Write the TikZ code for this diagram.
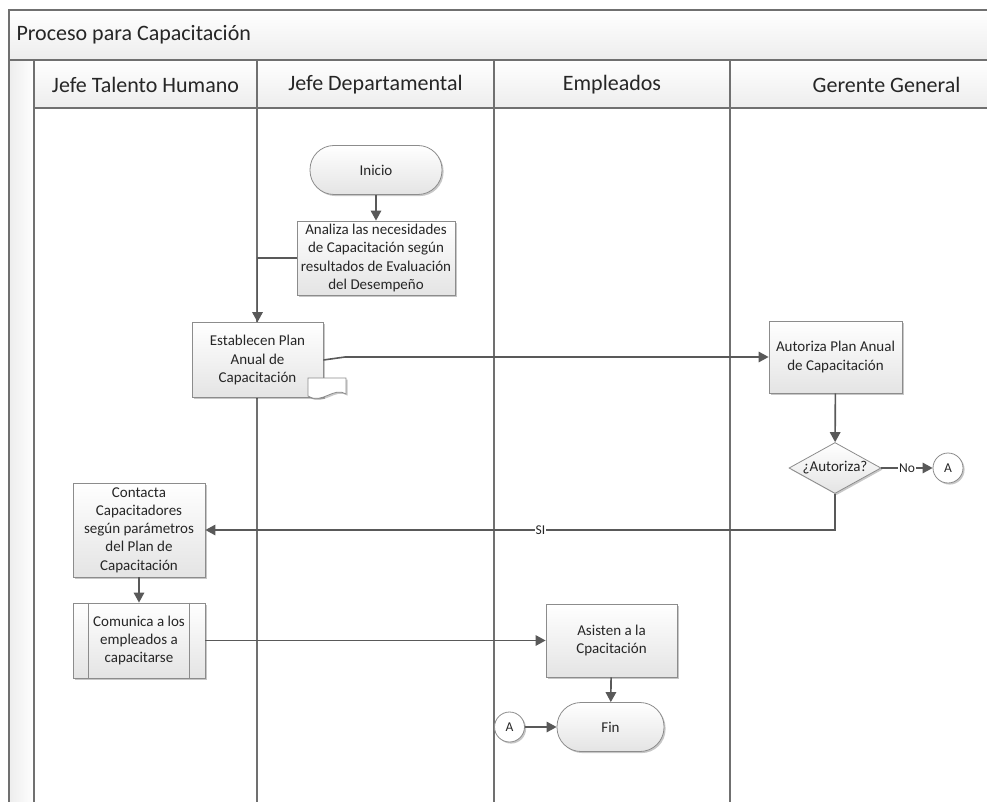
\documentclass[tikz,border=0pt]{standalone}
\usepackage{fontspec}
\setmainfont{Carlito}
\usetikzlibrary{arrows.meta,shapes.geometric,shadows}

\definecolor{frameline}{HTML}{707070}
\definecolor{connline}{HTML}{595959}
\definecolor{boxline}{HTML}{8C8C8C}
\definecolor{boxlow}{HTML}{E4E4E4}
\definecolor{bandlow}{HTML}{EDEDED}
\definecolor{inktext}{HTML}{262626}

\begin{document}
\begin{tikzpicture}[x=1pt,y=-1pt,
  every node/.style={font=\fontsize{15}{18.2}\selectfont, text=inktext},
  softshadow/.style={drop shadow={shadow xshift=1.6pt,shadow yshift=-1.6pt,fill=black,opacity=0.22}},
  procbox/.style={draw=boxline, line width=0.8pt, top color=white, bottom color=boxlow,
    align=center, inner sep=2pt, softshadow},
  terminal/.style={procbox, rounded corners=24pt},
  decision/.style={procbox, diamond, aspect=1.8, inner sep=0pt},
  connector/.style={draw=boxline, line width=0.8pt, fill=white, circle, minimum size=30,
    inner sep=0pt, softshadow, font=\fontsize{13.5}{15}\selectfont},
  flow/.style={draw=connline, line width=1.6pt, -{Triangle[length=10pt,width=10.5pt]}},
  lanehead/.style={font=\fontsize{22}{26}\selectfont},
  lanebar/.style={draw=frameline, line width=1.5pt},
  flowlabel/.style={fill=white, inner sep=1pt, font=\fontsize{13.5}{15}\selectfont}
]
\useasboundingbox (0,0) rectangle (987,802);
\clip (0,0) rectangle (987,802);

% pool: title band, header row and left strip
\shade[top color=white, bottom color=bandlow] (9,10) rectangle (995,60);
\shade[top color=white, bottom color=bandlow] (34,60) rectangle (995,108);
\shade[left color=bandlow, right color=white] (9,60) rectangle (34,810);
\draw[lanebar] (995,10) -- (9,10) -- (9,810);
\draw[lanebar] (9,60) -- (995,60);
\draw[lanebar] (34,108) -- (995,108);
\foreach \lx in {34,257,494,730} \draw[lanebar] (\lx,60) -- (\lx,810);

\node[lanehead, anchor=west] (title) at (13,35) {Proceso para Capacitación};
\node[lanehead] (h1) at (145.5,84.5) {Jefe Talento Humano};
\node[lanehead] (h2) at (375.5,84.5) {Jefe Departamental};
\node[lanehead] (h3) at (612,84.5) {Empleados};
\node[lanehead] (h4) at (886.5,84.5) {Gerente General};

% flow elements
\node[terminal, minimum width=132, minimum height=49] (ini) at (376,170) {Inicio};
\node[procbox, minimum width=158, minimum height=74] (ana) at (376,258)
  {Analiza las necesidades\\de Capacitación según\\resultados de Evaluación\\del Desempeño};
\node[procbox, minimum width=131, minimum height=75] (est) at (257.5,360)
  {Establecen Plan\\Anual de\\Capacitación};
% document marker on the plan box
\draw[draw=boxline, line width=0.8pt, fill=white, softshadow]
  (308,378) -- (346,378) -- (346,394) .. controls (334,386) and (322,405) .. (308,396) -- cycle;
\node[procbox, minimum width=133, minimum height=72] (aut) at (835.5,357)
  {Autoriza Plan Anual\\de Capacitación};
\node[decision, minimum width=92, minimum height=51] (dec) at (835,468) {¿Autoriza?};
\node[connector] (a1) at (948,468) {A};
\node[procbox, minimum width=132, minimum height=94] (con) at (139,530)
  {Contacta\\Capacitadores\\según parámetros\\del Plan de\\Capacitación};
\node[procbox, minimum width=132, minimum height=75] (com) at (139,640.5)
  {Comunica a los\\empleados a\\capacitarse};
\draw[draw=boxline, line width=0.8pt] ([xshift=16pt]com.north west) -- ([xshift=16pt]com.south west);
\draw[draw=boxline, line width=0.8pt] ([xshift=-16pt]com.north east) -- ([xshift=-16pt]com.south east);
\node[procbox, minimum width=131, minimum height=73] (asi) at (611.5,640.5)
  {Asisten a la\\Cpacitación};
\node[terminal, minimum width=107, minimum height=49] (fin) at (610.5,727) {Fin};
\node[connector] (a2) at (509.5,727) {A};

% connectors
\draw[flow] (ini) -- (ana);
\draw[flow] (ana.west) -| (est.north);
\coordinate (jog) at (345,357);
\draw[flow] (est.east) -- (jog) -- (aut.west);
\draw[flow] (aut) -- (dec);
\draw[flow] (dec.east) -- node[flowlabel] {No} (a1.west);
\draw[flow] (dec.south) |- node[flowlabel, pos=0.734] {SI} (con.east);
\draw[flow] (con) -- (com);
\draw[flow] (com.east) -- (asi.west);
\draw[flow] (asi) -- (fin);
\draw[flow] (a2) -- (fin);
\end{tikzpicture}
\end{document}
